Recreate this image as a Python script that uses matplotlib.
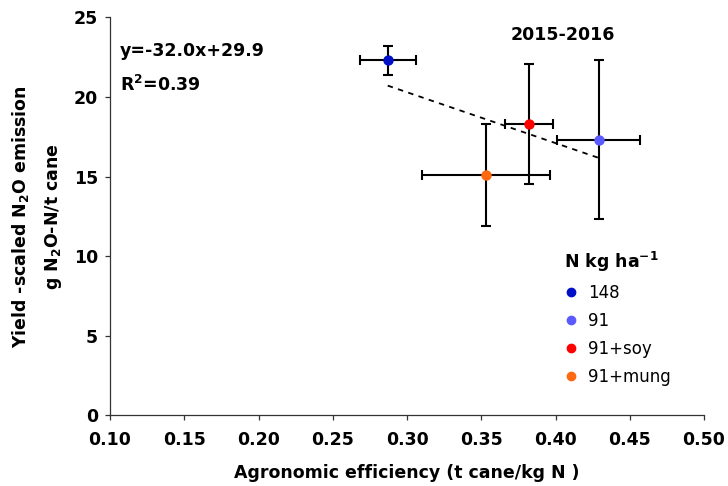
import matplotlib

matplotlib.use("Agg")
import matplotlib.pyplot as plt
from matplotlib.lines import Line2D

# Treatment means with error bars (2015-2016 season)
treatments = ["148", "91", "91+soy", "91+mung"]
agron_eff = [0.287, 0.429, 0.382, 0.353]
agron_eff_err = [0.019, 0.028, 0.016, 0.043]
yield_n2o = [22.3, 17.3, 18.3, 15.1]
yield_n2o_err = [0.9, 5.0, 3.8, 3.2]
colors = ["#0010C8", "#5A5AFF", "#FF0000", "#FF6A10"]

# Linear fit reported on the chart
slope, intercept, r2 = -32.0, 29.9, 0.39

x_ticks = [0.10, 0.15, 0.20, 0.25, 0.30, 0.35, 0.40, 0.45, 0.50]
y_ticks = [0, 5, 10, 15, 20, 25]

plt.rcParams["font.family"] = ["DejaVu Sans"]
plt.rcParams["mathtext.fontset"] = "dejavusans"

fig = plt.figure(figsize=(7.28, 4.86), dpi=100)
ax = fig.add_axes([0.1511, 0.146, 0.816, 0.818])

for x, xe, y, ye, c in zip(agron_eff, agron_eff_err, yield_n2o, yield_n2o_err, colors):
    ax.errorbar(x, y, xerr=xe, yerr=ye, fmt="o", color=c, markersize=6.5,
                ecolor="black", elinewidth=1.5, capsize=3.4, capthick=1.5, zorder=3)

fit_x = [min(agron_eff), max(agron_eff)]
fit_y = [slope * v + intercept for v in fit_x]
ax.plot(fit_x, fit_y, color="black", linestyle=(0, (3, 3)), linewidth=1.3, zorder=2)

ax.set_xlim(0.10, 0.50)
ax.set_ylim(0, 25)
ax.set_xticks(x_ticks)
ax.set_xticklabels([f"{v:.2f}" for v in x_ticks])
ax.set_yticks(y_ticks)
ax.set_yticklabels([str(v) for v in y_ticks])

for side in ("top", "right"):
    ax.spines[side].set_visible(False)
for side in ("left", "bottom"):
    ax.spines[side].set_linewidth(0.9)
    ax.spines[side].set_color("#333333")

ax.tick_params(direction="out", length=3.6, width=0.9, color="#333333",
               labelsize=12.5)
ax.tick_params(axis="x", pad=8)
ax.tick_params(axis="y", pad=5)
for lab in ax.get_xticklabels() + ax.get_yticklabels():
    lab.set_fontweight("bold")

ax.set_xlabel("Agronomic efficiency (t cane/kg N )", fontsize=12.5,
              fontweight="bold", labelpad=11)
fig.text(0.028, 0.555, r"Yield -scaled N$_\mathbf{2}$O emission", rotation=90,
         ha="center", va="center", fontsize=12.5, fontweight="bold")
fig.text(0.073, 0.555, r"g N$_\mathbf{2}$O-N/t cane", rotation=90,
         ha="center", va="center", fontsize=12.5, fontweight="bold")

ax.text(0.017, 0.916, f"y={slope:.1f}x+{intercept:.1f}", transform=ax.transAxes,
        ha="left", va="center", fontsize=12.5, fontweight="bold")
ax.text(0.017, 0.83, r"R$^{\mathbf{2}}$" + f"={r2:.2f}", transform=ax.transAxes,
        ha="left", va="center", fontsize=12.5, fontweight="bold")
ax.text(0.762, 0.955, "2015-2016", transform=ax.transAxes,
        ha="center", va="center", fontsize=12.5, fontweight="bold")

handles = [Line2D([], [], marker="o", linestyle="none", color=c, markersize=6)
           for c in colors]
leg = ax.legend(handles, treatments, loc="upper left", bbox_to_anchor=(0.765, 0.415),
                frameon=False, fontsize=12, labelspacing=0.6, handlelength=0.8,
                handletextpad=0.6, borderaxespad=0, borderpad=0,
                title=r"N kg ha$^{\mathbf{-1}}$", alignment="left")
leg.get_title().set_fontsize(12.5)
leg.get_title().set_fontweight("bold")

fig.savefig("out.png", dpi=100)
